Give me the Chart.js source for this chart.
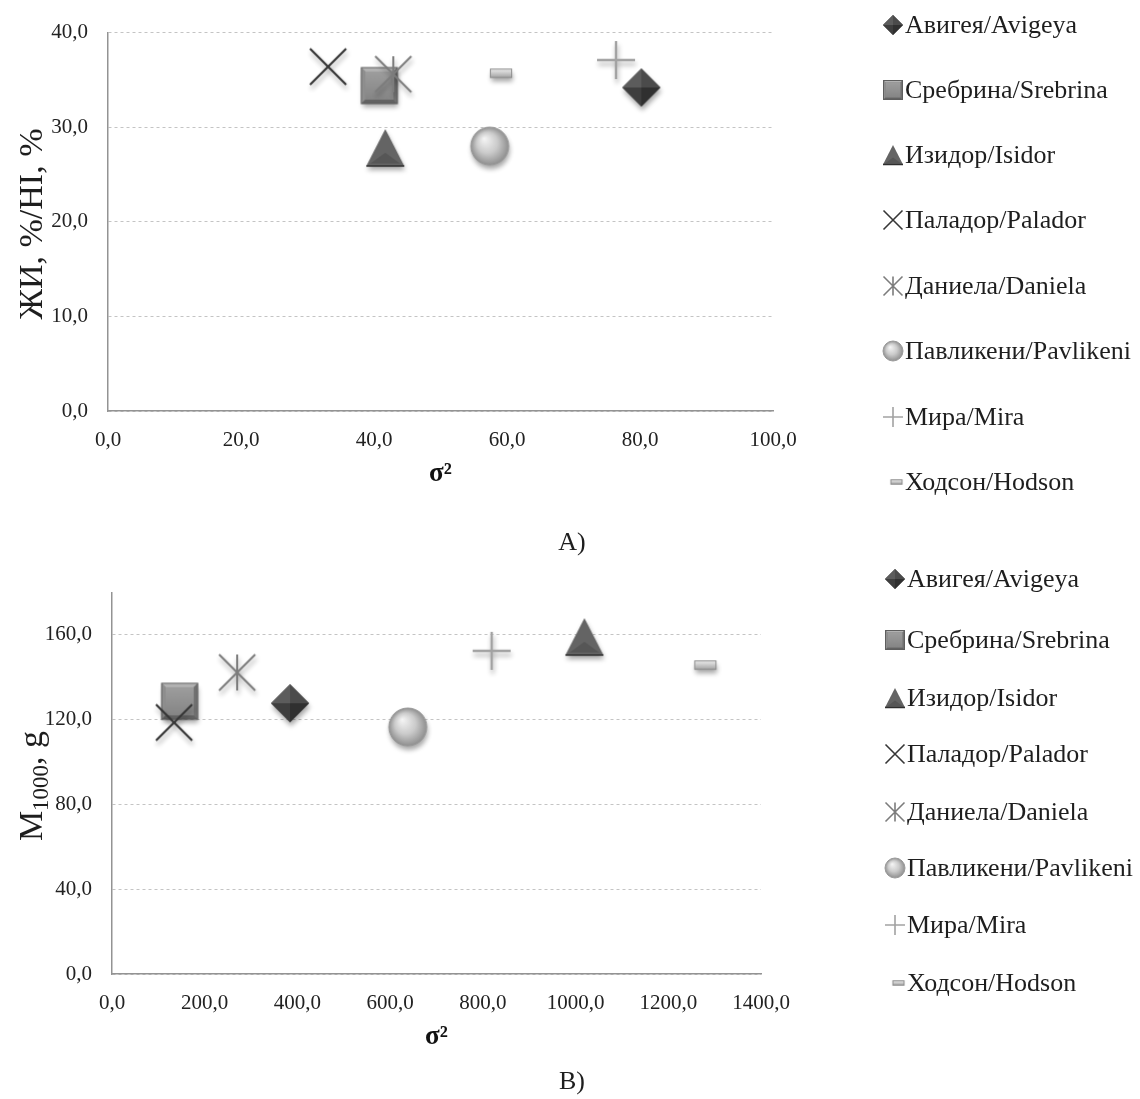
<!DOCTYPE html>
<html>
<head>
<meta charset="utf-8">
<script src="https://cdn.jsdelivr.net/npm/chart.js@4.4.1/dist/chart.umd.min.js"></script>
<style>
  body { margin: 0; background: #fff; }
  #wrap { position: relative; width: 1140px; height: 1099px; }
  canvas { position: absolute; left: 0; }
</style>
</head>
<body>
<div id="wrap">
  <canvas id="chartA" width="1140" height="560" style="top:0"></canvas>
  <canvas id="chartB" width="1140" height="539" style="top:560px"></canvas>
</div>
<script>
// varieties, same order in both panels
var varieties = ['Авигея/Avigeya', 'Сребрина/Srebrina', 'Изидор/Isidor', 'Паладор/Palador',
                 'Даниела/Daniela', 'Павликени/Pavlikeni', 'Мира/Mira', 'Ходсон/Hodson'];
var markerKinds = ['diamond', 'square', 'triangle', 'x', 'asterisk', 'circle', 'plus', 'dash'];

// panel A: sigma^2 vs HI, %
var sigmaA = [80.2, 40.8, 41.7, 33.1, 42.9, 57.4, 76.4, 59.1];
var hiA    = [34.2, 34.4, 27.8, 36.4, 35.6, 28.0, 37.1, 35.7];

// panel B: sigma^2 vs M1000, g
var sigmaB = [384, 146, 1019, 134, 270, 638, 819, 1280];
var m1000B = [127.8, 128.7, 159.0, 118.7, 142.3, 116.6, 152.5, 145.8];

var SERIF = '"Liberation Serif", "Times New Roman", serif';

function fmt(v) {
    return Number(v).toFixed(1).replace('.', ',');
}

// excel-ish shaded markers drawn into small canvases
function makeMarker(kind, s, shadow) {
    var pad = shadow ? 10 : 2;
    var W = Math.ceil(s + pad * 2);
    var cv = document.createElement('canvas');
    cv.width = W; cv.height = W;
    var g = cv.getContext('2d');
    var c = W / 2, h = s / 2;

    function sh(on) {
        if (on && shadow) {
            g.shadowColor = 'rgba(0,0,0,0.35)';
            g.shadowBlur = 5; g.shadowOffsetX = 1; g.shadowOffsetY = 4;
        } else {
            g.shadowColor = 'transparent';
            g.shadowBlur = 0; g.shadowOffsetX = 0; g.shadowOffsetY = 0;
        }
    }
    function poly(pts, fill) {
        g.beginPath();
        g.moveTo(pts[0][0], pts[0][1]);
        for (var i = 1; i < pts.length; i++) g.lineTo(pts[i][0], pts[i][1]);
        g.closePath();
        g.fillStyle = fill;
        g.fill();
    }
    function lines(segs, color, w) {
        g.strokeStyle = color;
        g.lineWidth = w;
        g.lineCap = 'butt';
        g.beginPath();
        segs.forEach(function (sg) { g.moveTo(sg[0], sg[1]); g.lineTo(sg[2], sg[3]); });
        g.stroke();
    }

    if (kind === 'diamond') {
        var T = [c, c - h], R = [c + h, c], B = [c, c + h], L = [c - h, c], C = [c, c];
        sh(true); poly([T, R, B, L], '#3d3d3d'); sh(false);
        poly([L, T, C], '#5c5c5c');
        poly([T, R, C], '#4b4b4b');
        poly([R, B, C], '#303030');
        poly([B, L, C], '#3e3e3e');
    } else if (kind === 'square') {
        var a = h * 0.95, b = a * 0.22;
        sh(true); poly([[c - a, c - a], [c + a, c - a], [c + a, c + a], [c - a, c + a]], '#7a7a7a'); sh(false);
        poly([[c - a, c - a], [c + a, c - a], [c + a - b, c - a + b], [c - a + b, c - a + b]], '#b2b2b2');
        poly([[c - a, c - a], [c - a + b, c - a + b], [c - a + b, c + a - b], [c - a, c + a]], '#8e8e8e');
        poly([[c + a, c - a], [c + a, c + a], [c + a - b, c + a - b], [c + a - b, c - a + b]], '#707070');
        poly([[c - a, c + a], [c - a + b, c + a - b], [c + a - b, c + a - b], [c + a, c + a]], '#626262');
        var gr = g.createLinearGradient(0, c - a + b, 0, c + a - b);
        gr.addColorStop(0, '#9d9d9d'); gr.addColorStop(1, '#858585');
        poly([[c - a + b, c - a + b], [c + a - b, c - a + b], [c + a - b, c + a - b], [c - a + b, c + a - b]], gr);
        g.strokeStyle = '#5e5e5e'; g.lineWidth = 1;
        g.strokeRect(c - a, c - a, 2 * a, 2 * a);
    } else if (kind === 'triangle') {
        var ap = [c, c - h], bl = [c - h, c + h * 0.95], br = [c + h, c + h * 0.95];
        sh(true); poly([ap, br, bl], '#646464'); sh(false);
        poly([[c, c + h * 0.25], [c - h * 0.78, c + h * 0.82], [c + h * 0.78, c + h * 0.82]], '#565656');
        lines([[bl[0], bl[1], br[0], br[1]]], '#2e2e2e', 1.5);
    } else if (kind === 'circle') {
        var rg = g.createRadialGradient(c - h * 0.3, c - h * 0.4, 0, c, c, h);
        rg.addColorStop(0, '#f6f6f6');
        rg.addColorStop(0.55, '#cbcbcb');
        rg.addColorStop(1, '#8f8f8f');
        sh(true);
        g.beginPath(); g.arc(c, c, h, 0, Math.PI * 2); g.fillStyle = rg; g.fill();
        sh(false);
        g.strokeStyle = '#9a9a9a'; g.lineWidth = 1; g.stroke();
    } else if (kind === 'x') {
        var k = h * 0.95;
        sh(true);
        lines([[c - k, c - k, c + k, c + k], [c - k, c + k, c + k, c - k]], '#363636', shadow ? 2.2 : 1.6);
    } else if (kind === 'asterisk') {
        var k2 = h * 0.95;
        sh(true);
        lines([[c - k2, c - k2, c + k2, c + k2], [c - k2, c + k2, c + k2, c - k2], [c, c - k2, c, c + k2]],
              '#7c7c7c', shadow ? 2 : 1.6);
    } else if (kind === 'plus') {
        sh(true);
        lines([[c - h, c, c + h, c], [c, c - h, c, c + h]], '#a2a2a2', shadow ? 2.4 : 1.6);
    } else if (kind === 'dash') {
        var dw = s * 0.28, dh = s * 0.11;
        var lg = g.createLinearGradient(0, c - dh, 0, c + dh);
        lg.addColorStop(0, '#ececec'); lg.addColorStop(1, '#a4a4a4');
        sh(true); poly([[c - dw, c - dh], [c + dw, c - dh], [c + dw, c + dh], [c - dw, c + dh]], lg); sh(false);
        g.strokeStyle = '#8a8a8a'; g.lineWidth = 1;
        g.strokeRect(c - dw, c - dh, 2 * dw, 2 * dh);
    }
    return cv;
}

var plotIcons = markerKinds.map(function (k) { return makeMarker(k, 38, true); });
var legendIcons = markerKinds.map(function (k) { return makeMarker(k, 20, false); });

function buildDatasets(xs, ys) {
    return varieties.map(function (name, i) {
        return {
            label: name,
            data: [{ x: xs[i], y: ys[i] }],
            pointStyle: plotIcons[i],
            pointRadius: 19,
            pointHoverRadius: 19,
            // first series at the bottom, like the original
            order: varieties.length - i
        };
    });
}

// legend + panel letter + rotated y title, drawn after the chart
function decorPlugin(cfg) {
    return {
        id: 'decor',
        afterDraw: function (chart) {
            var ctx = chart.ctx;
            ctx.save();
            // legend
            ctx.font = '26px ' + SERIF;
            ctx.fillStyle = '#1e1e1e';
            ctx.textBaseline = 'middle';
            ctx.textAlign = 'left';
            varieties.forEach(function (name, i) {
                var y = cfg.legendY[i];
                var ic = legendIcons[i];
                var iw = markerKinds[i] === 'dash' ? 13 : 20;
                ctx.drawImage(ic, cfg.legendX - 2 - iw / 2 - ic.width / 2, y - ic.height / 2);
                ctx.fillText(name, cfg.legendX, y + 1);
            });
            // panel letter
            ctx.textAlign = 'center';
            ctx.fillText(cfg.letter, cfg.letterX, cfg.letterY);
            // y title
            ctx.translate(cfg.titleX, cfg.titleY);
            ctx.rotate(-Math.PI / 2);
            var big = '34px ' + SERIF, small = '23px ' + SERIF;
            var parts = cfg.titleParts;
            var total = 0;
            parts.forEach(function (p) { ctx.font = p.sub ? small : big; total += ctx.measureText(p.t).width; });
            var x = -total / 2;
            ctx.textAlign = 'left';
            ctx.textBaseline = 'alphabetic';
            parts.forEach(function (p) {
                ctx.font = p.sub ? small : big;
                ctx.fillText(p.t, x, p.sub ? 18 : 12);
                x += ctx.measureText(p.t).width;
            });
            ctx.restore();
        }
    };
}

function makeChart(id, xs, ys, ax, decor) {
    var ctx = document.getElementById(id).getContext('2d');
    return new Chart(ctx, {
        type: 'scatter',
        data: { datasets: buildDatasets(xs, ys) },
        options: {
            responsive: false,
            animation: false,
            events: [],
            layout: { padding: ax.padding },
            plugins: { legend: { display: false }, tooltip: { enabled: false } },
            scales: {
                x: {
                    type: 'linear',
                    min: 0, max: ax.xMax,
                    afterFit: function (s) { s.height = 80; },
                    grid: { display: false, drawTicks: false },
                    border: { display: true, color: '#939393', width: 1.5 },
                    ticks: {
                        stepSize: ax.xStep,
                        padding: 17,
                        color: '#222',
                        font: { family: SERIF, size: 21 },
                        callback: function (v) { return fmt(v); }
                    },
                    title: {
                        display: true,
                        text: 'σ²',
                        color: '#111',
                        font: { family: SERIF, size: 27, weight: 'bold' },
                        padding: { top: 0, bottom: 1 }
                    }
                },
                y: {
                    type: 'linear',
                    min: 0, max: ax.yMax,
                    afterFit: function (s) { s.width = ax.yWidth; },
                    afterBuildTicks: function (s) {
                        s.ticks = s.ticks.filter(function (t) { return t.value <= ax.yTop; });
                    },
                    grid: { display: true, drawTicks: false, color: '#c4c4c4', lineWidth: 1 },
                    border: { display: true, color: '#939393', width: 1.5, dash: [3, 3] },
                    ticks: {
                        stepSize: ax.yStep,
                        padding: 20,
                        color: '#222',
                        font: { family: SERIF, size: 21 },
                        callback: function (v) { return fmt(v); }
                    }
                }
            }
        },
        plugins: [decorPlugin(decor)]
    });
}

makeChart('chartA', sigmaA, hiA,
    { xMax: 100, xStep: 20, yMax: 40, yStep: 10, yTop: 40, yWidth: 108,
      padding: { top: 30, right: 367, bottom: 69, left: 0 } },
    { legendX: 905, legendY: [25, 90, 155, 220, 286, 351, 417, 482],
      letter: 'A)', letterX: 572, letterY: 543,
      titleX: 30, titleY: 224,
      titleParts: [{ t: 'ЖИ, %/HI, %' }] });

makeChart('chartB', sigmaB, m1000B,
    { xMax: 1400, xStep: 200, yMax: 180, yStep: 40, yTop: 160, yWidth: 112,
      padding: { top: 28, right: 379, bottom: 45, left: 0 } },
    { legendX: 907, legendY: [19, 80, 138, 194, 252, 308, 365, 423],
      letter: 'B)', letterX: 572, letterY: 522,
      titleX: 30, titleY: 226,
      titleParts: [{ t: 'M' }, { t: '1000', sub: true }, { t: ', g' }] });
</script>
</body>
</html>
